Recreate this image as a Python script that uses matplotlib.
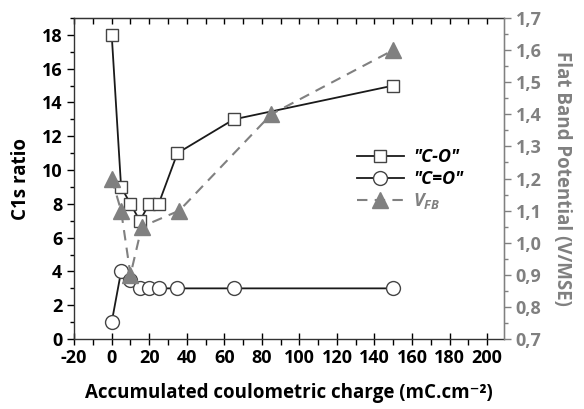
import matplotlib
matplotlib.use("Agg")
import matplotlib.pyplot as plt
from matplotlib.ticker import MultipleLocator, FuncFormatter

plt.rcParams['font.family'] = ['Open Sans', 'DejaVu Sans']
plt.rcParams['font.weight'] = 'bold'
plt.rcParams['axes.unicode_minus'] = False
plt.rcParams['mathtext.fontset'] = 'custom'
plt.rcParams['mathtext.rm'] = 'Open Sans:bold'
plt.rcParams['mathtext.it'] = 'Open Sans:bold:italic'
plt.rcParams['mathtext.bf'] = 'Open Sans:bold'

# accumulated charge (mC/cm2) and C1s component ratios
charge = [0, 5, 10, 15, 20, 25, 35, 65, 150]
c_o = [18, 9, 8, 7, 8, 8, 11, 13, 15]
c_dbl_o = [1, 4, 3.5, 3, 3, 3, 3, 3, 3]

# flat band potential (V/MSE)
charge_fb = [0, 5, 10, 16, 36, 85, 150]
v_fb = [1.2, 1.1, 0.9, 1.05, 1.1, 1.4, 1.6]

grey = '#808080'
dark = '#1a1a1a'

fig = plt.figure(figsize=(5.84, 4.09), dpi=100)
ax = fig.add_axes([0.127, 0.171, 0.736, 0.785])
ax2 = ax.twinx()

l1, = ax.plot(charge, c_o, color=dark, lw=1.3, marker='s', ms=8,
              mfc='white', mec='#444444', mew=1.0, zorder=3)
l2, = ax.plot(charge, c_dbl_o, color=dark, lw=1.3, marker='o', ms=10,
              mfc='white', mec='#444444', mew=1.0, zorder=3)
l3, = ax2.plot(charge_fb, v_fb, color=grey, lw=1.5, ls=(0, (5, 3.5)),
               marker='^', ms=11, mfc=grey, mec=grey)

ax.set_xlim(-20, 209)
ax.set_ylim(0, 19)
ax2.set_ylim(0.7, 1.7)

ax.xaxis.set_major_locator(MultipleLocator(20))
ax.xaxis.set_minor_locator(MultipleLocator(10))
ax.yaxis.set_major_locator(MultipleLocator(2))
ax.yaxis.set_minor_locator(MultipleLocator(1))
ax2.yaxis.set_major_locator(MultipleLocator(0.1))
ax2.yaxis.set_minor_locator(MultipleLocator(0.05))
ax2.yaxis.set_major_formatter(FuncFormatter(lambda v, p: f"{v:.1f}".replace('.', ',')))

ax.tick_params(axis='both', which='both', labelsize=13, width=1, colors='black')
ax.tick_params(axis='x', which='major', direction='inout', length=8)
ax.tick_params(axis='x', which='minor', direction='out', length=4)
ax.tick_params(axis='y', which='major', direction='out', length=5)
ax.tick_params(axis='y', which='minor', direction='out', length=3)
ax2.tick_params(axis='y', which='major', colors=grey, labelsize=13, length=5, width=1)
ax2.tick_params(axis='y', which='minor', colors=grey, length=3, width=1)

# inward ticks along the top edge
top = ax.secondary_xaxis('top')
top.xaxis.set_major_locator(MultipleLocator(10))
top.tick_params(direction='in', length=4, width=1, labeltop=False, colors='black')
top.spines['top'].set_color('#333333')

for t in ax.get_xticklabels() + ax.get_yticklabels() + ax2.get_yticklabels():
    t.set_fontweight('bold')

for s in ['left', 'bottom', 'top']:
    ax.spines[s].set_color('#333333')
    ax.spines[s].set_linewidth(1.0)
ax2.spines['right'].set_color(grey)
ax2.spines['right'].set_linewidth(1.0)
for s in ['left', 'bottom', 'top']:
    ax2.spines[s].set_visible(False)

ax.set_xlabel('Accumulated coulometric charge (mC.cm\u207b\u00b2)',
              fontsize=13.5, fontweight='bold', labelpad=11)
ax.set_ylabel('C1s ratio', fontsize=13.5, fontweight='bold', labelpad=8)
ax2.set_ylabel('Flat Band Potential (V/MSE)', fontsize=13.5, fontweight='bold',
               color=grey, rotation=270, labelpad=22)

leg = ax.legend([l1, l2, l3], ['"C-O"', '"C=O"', '$V_{FB}$'],
                loc='upper left', bbox_to_anchor=(0.62, 0.645), frameon=False,
                handlelength=2.6, handletextpad=0.5, labelspacing=0.2,
                prop={'size': 13, 'weight': 'bold', 'style': 'italic'})
texts = leg.get_texts()
texts[2].set_color(grey)

fig.savefig('out.png', dpi=100)
